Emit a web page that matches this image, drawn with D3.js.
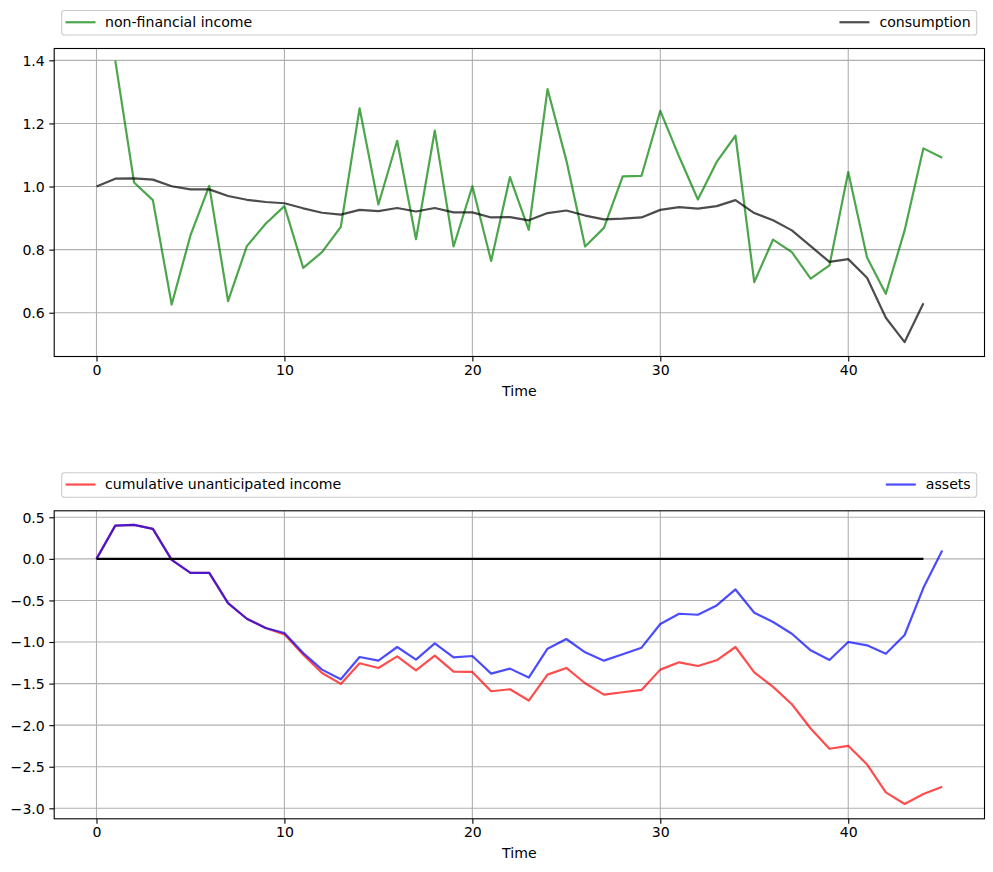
<!DOCTYPE html>
<html>
<head>
<meta charset="utf-8">
<script src="https://cdn.jsdelivr.net/npm/d3@7"></script>
<style>
  html, body { margin: 0; padding: 0; background: #fff; }
  text { font-family: "DejaVu Sans", sans-serif; }
</style>
</head>
<body>
<script>
// ---------- data ----------
const timeIncome = d3.range(1, 46);          // t = 1..45
const timeConsumption = d3.range(0, 45);     // t = 0..44
const timeAssets = d3.range(0, 46);          // t = 0..45

const nonFinancialIncome = [1.399, 1.013, 0.957, 0.626, 0.845, 1.002, 0.637, 0.811, 0.882, 0.938,
  0.742, 0.792, 0.872, 1.248, 0.943, 1.145, 0.833, 1.177, 0.810, 1.001,
  0.764, 1.030, 0.863, 1.309, 1.083, 0.810, 0.869, 1.032, 1.034, 1.240,
  1.095, 0.959, 1.078, 1.161, 0.697, 0.832, 0.792, 0.708, 0.750, 1.046,
  0.775, 0.660, 0.861, 1.121, 1.091];

const consumption = [1.000, 1.025, 1.026, 1.022, 1.001, 0.991, 0.991, 0.970, 0.958, 0.951,
  0.947, 0.931, 0.917, 0.911, 0.926, 0.922, 0.932, 0.921, 0.932, 0.918,
  0.918, 0.902, 0.903, 0.893, 0.916, 0.924, 0.908, 0.896, 0.898, 0.902,
  0.926, 0.935, 0.930, 0.938, 0.957, 0.916, 0.893, 0.861, 0.811, 0.761,
  0.770, 0.711, 0.584, 0.507, 0.630];

const cumulativeUnanticipated = [0.000, 0.400, 0.408, 0.360, -0.012, -0.168, -0.168, -0.532, -0.720, -0.832,
  -0.908, -1.152, -1.372, -1.504, -1.256, -1.312, -1.172, -1.340, -1.164, -1.356,
  -1.360, -1.592, -1.568, -1.704, -1.392, -1.312, -1.496, -1.632, -1.604, -1.576,
  -1.332, -1.244, -1.288, -1.220, -1.060, -1.364, -1.540, -1.748, -2.040, -2.284,
  -2.248, -2.472, -2.808, -2.948, -2.828, -2.740];

const assets = [0.000, 0.400, 0.408, 0.360, -0.012, -0.168, -0.168, -0.532, -0.720, -0.832,
  -0.892, -1.132, -1.332, -1.448, -1.180, -1.224, -1.060, -1.212, -1.016, -1.184,
  -1.168, -1.380, -1.320, -1.428, -1.080, -0.964, -1.124, -1.224, -1.148, -1.068,
  -0.784, -0.660, -0.672, -0.560, -0.368, -0.648, -0.760, -0.900, -1.100, -1.216,
  -1.000, -1.040, -1.140, -0.916, -0.348, 0.100];

const zeroLineTime = [0, 44];
const zeroLineValue = [0, 0];

const xTicks = [0, 10, 20, 30, 40];
const xTickLabels = ["0", "10", "20", "30", "40"];
const yTicksTop = [0.6, 0.8, 1.0, 1.2, 1.4];
const yTickLabelsTop = ["0.6", "0.8", "1.0", "1.2", "1.4"];
const yTicksBottom = [0.5, 0.0, -0.5, -1.0, -1.5, -2.0, -2.5, -3.0];
const yTickLabelsBottom = ["0.5", "0.0", "\u22120.5", "\u22121.0", "\u22121.5", "\u22122.0", "\u22122.5", "\u22123.0"];

const yDomainTop = [0.4613, 1.4375];
const yDomainBottom = [-3.126, 0.578];

const legendTop = ["non-financial income", "consumption"];
const legendBottom = ["cumulative unanticipated income", "assets"];
const xLabel = "Time";

// ---------- drawing ----------
const W = 993, H = 872;
const svg = d3.select("body").append("svg").attr("width", W).attr("height", H);
svg.append("rect").attr("width", W).attr("height", H).attr("fill", "#fff");

const FS = 14.1;
const LW = 2.2;
const axL = 54.2, axR = 984.5;

function pad(ext) { const r = ext[1] - ext[0]; return [ext[0] - 0.05 * r, ext[1] + 0.05 * r]; }

const x = d3.scaleLinear().domain(pad([0, 45])).range([axL, axR]);

function panel(cfg) {
  const g = svg.append("g");
  const y = d3.scaleLinear().domain(cfg.yDomain).range([cfg.bottom, cfg.top]);
  const clipId = "clip" + cfg.id;
  svg.append("clipPath").attr("id", clipId).append("rect")
    .attr("x", axL).attr("y", cfg.top).attr("width", axR - axL).attr("height", cfg.bottom - cfg.top);

  // grid
  const grid = g.append("g").attr("clip-path", `url(#${clipId})`);
  grid.selectAll("line.vx").data(xTicks).join("line")
    .attr("x1", d => x(d)).attr("x2", d => x(d)).attr("y1", cfg.top).attr("y2", cfg.bottom)
    .attr("stroke", "#b0b0b0").attr("stroke-width", 1.1);
  grid.selectAll("line.hy").data(cfg.yTicks).join("line")
    .attr("y1", d => y(d)).attr("y2", d => y(d)).attr("x1", axL).attr("x2", axR)
    .attr("stroke", "#b0b0b0").attr("stroke-width", 1.1);

  // series
  const lines = g.append("g").attr("clip-path", `url(#${clipId})`);
  cfg.series.forEach(s => {
    const pts = s.t.map((t, i) => [t, s.v[i]]);
    lines.append("path").datum(pts)
      .attr("d", d3.line().x(d => x(d[0])).y(d => y(d[1])))
      .attr("fill", "none").attr("stroke", s.color).attr("stroke-opacity", s.alpha)
      .attr("stroke-width", LW).attr("stroke-linejoin", "round").attr("stroke-linecap", "butt");
  });

  // axes
  const xa = g.append("g").attr("transform", `translate(0,${cfg.bottom})`)
    .call(d3.axisBottom(x).tickValues(xTicks).tickFormat((d, i) => xTickLabels[i]).tickSize(4.9).tickPadding(3.3));
  const ya = g.append("g").attr("transform", `translate(${axL},0)`)
    .call(d3.axisLeft(y).tickValues(cfg.yTicks).tickFormat((d, i) => cfg.yTickLabels[i]).tickSize(4.9).tickPadding(4.5));
  [xa, ya].forEach(a => {
    a.select(".domain").remove();
    a.selectAll("line").attr("stroke", "#000").attr("stroke-width", 1.1);
    a.selectAll("text").attr("font-size", FS).attr("fill", "#000").attr("font-family", "DejaVu Sans");
  });
  ya.selectAll("text").attr("dy", "0.35em");

  // spines
  g.append("rect").attr("x", axL).attr("y", cfg.top).attr("width", axR - axL).attr("height", cfg.bottom - cfg.top)
    .attr("fill", "none").attr("stroke", "#000").attr("stroke-width", 1.1);

  // x label
  g.append("text").attr("x", (axL + axR) / 2).attr("y", cfg.bottom + 39).attr("text-anchor", "middle")
    .attr("font-size", FS).text(xLabel);

  // legend (expand mode, 2 columns)
  const lg = g.append("g");
  const lt = cfg.top - 38, lb = cfg.top - 13.5;
  lg.append("rect").attr("x", 61.7).attr("y", lt).attr("width", 976.7 - 61.7).attr("height", lb - lt)
    .attr("rx", 2.8).attr("fill", "#fff").attr("fill-opacity", 0.8).attr("stroke", "#cccccc").attr("stroke-width", 1.1);
  const ly = (lt + lb) / 2 - 0.5;
  lg.append("line").attr("x1", 65.5).attr("x2", 95.5).attr("y1", ly).attr("y2", ly)
    .attr("stroke", cfg.series[0].color).attr("stroke-opacity", cfg.series[0].alpha).attr("stroke-width", LW);
  lg.append("text").attr("x", 105).attr("y", ly).attr("dy", "0.35em").attr("font-size", FS).text(cfg.legend[0]);
  const s1 = cfg.series[1];
  const t1 = lg.append("text").attr("x", 970.7).attr("y", ly).attr("dy", "0.35em").attr("text-anchor", "end")
    .attr("font-size", FS).text(cfg.legend[1]);
  const tw = t1.node().getComputedTextLength();
  const hx2 = 970.7 - tw - 10;
  lg.append("line").attr("x1", hx2 - 30).attr("x2", hx2).attr("y1", ly).attr("y2", ly)
    .attr("stroke", s1.color).attr("stroke-opacity", s1.alpha).attr("stroke-width", LW);
}

panel({
  id: "top", top: 48.5, bottom: 356.5,
  yDomain: yDomainTop,
  yTicks: yTicksTop, yTickLabels: yTickLabelsTop,
  series: [
    { t: timeIncome, v: nonFinancialIncome, color: "green", alpha: 0.7 },
    { t: timeConsumption, v: consumption, color: "black", alpha: 0.7 }
  ],
  legend: legendTop
});

panel({
  id: "bot", top: 510.8, bottom: 818.8,
  yDomain: yDomainBottom,
  yTicks: yTicksBottom, yTickLabels: yTickLabelsBottom,
  series: [
    { t: timeAssets, v: cumulativeUnanticipated, color: "red", alpha: 0.7 },
    { t: timeAssets, v: assets, color: "blue", alpha: 0.7 },
    { t: zeroLineTime, v: zeroLineValue, color: "black", alpha: 1 }
  ],
  legend: legendBottom
});
</script>
</body>
</html>
